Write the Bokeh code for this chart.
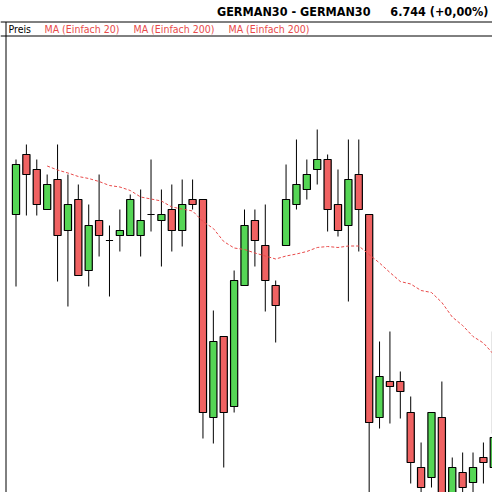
from bokeh.plotting import figure
from bokeh.models import Range1d, Span, Label, ColumnDataSource
from bokeh.embed import file_html
from bokeh.resources import INLINE

# ---------------- data ----------------
opens = [6978, 7098, 7068, 6988, 7048, 6946, 7008, 6866, 6966, 6926,
         6936, 6936, 6936, 6978, 6966, 6988, 6946, 7008, 7008, 6572,
         6734, 6594, 6836, 6966, 6916, 6836, 6916, 6998, 7028, 7068,
         7088, 6998, 6956, 7058, 6978, 6572, 6644, 6644, 6582, 6472,
         6452, 6572, 6386, 6462, 6442, 6492, 6472, 6540]
highs = [7088, 7118, 7088, 7058, 7118, 7058, 7038, 6998, 7058, 6956,
         6988, 7018, 7028, 7088, 7028, 7038, 7048, 7048, 7008, 6786,
         6734, 6866, 6988, 6988, 6998, 6846, 7078, 7128, 7088, 7148,
         7098, 7068, 7128, 7128, 6978, 6724, 6744, 6664, 6614, 6522,
         6582, 6644, 6492, 6502, 6502, 6522, 6562, 6744]
lows = [6834, 6976, 6976, 6988, 6844, 6794, 6856, 6834, 6894, 6814,
        6904, 6936, 6894, 6944, 6874, 6904, 6914, 6988, 6530, 6520,
        6472, 6582, 6836, 6874, 6784, 6722, 6916, 6988, 7008, 7038,
        6944, 6934, 6804, 6904, 6396, 6550, 6560, 6570, 6440, 6420,
        6432, 6402, 6386, 6402, 6420, 6440, 6440, 6540]
closes = [7078, 7058, 6998, 7038, 6936, 6998, 6856, 6956, 6936, 6926,
          6946, 7008, 6966, 6978, 6978, 6946, 6998, 6998, 6582, 6724,
          6582, 6846, 6956, 6926, 6846, 6796, 7008, 7038, 7058, 7088,
          6988, 6946, 7048, 6988, 6562, 6654, 6634, 6624, 6482, 6432,
          6582, 6412, 6472, 6432, 6472, 6482, 6532, 6744]

ma_first_index = 3
ma_values = [7075, 7067, 7061, 7054, 7050, 7044, 7036, 7033, 7026, 7013,
             7009, 7005, 6993, 6989, 6985, 6964, 6950, 6924, 6911, 6908,
             6901, 6895, 6889, 6895, 6899, 6904, 6912, 6914, 6912, 6915,
             6915, 6898, 6881, 6862, 6844, 6839, 6826, 6822, 6802, 6773,
             6756, 6734, 6721, 6698, 6686]

title_symbol = "GERMAN30 - GERMAN30"
title_quote = "6.744 (+0,00%)"
legend_labels = ["Preis", "MA (Einfach 20)", "MA (Einfach 200)", "MA (Einfach 200)"]

# ---------------- layout helpers (figure pixels -> data) ----------------
W, H = 492, 492
X_FIRST_PX, X_STEP_PX = 15.5, 10.387
PRICE_AT_TOP, PX_PER_PT = 7406.0, 0.5


def px2x(px):
    return (px - X_FIRST_PX) / X_STEP_PX


def py2y(py):
    return PRICE_AT_TOP - py / PX_PER_PT


GREEN = "#55d655"
RED = "#f06262"
MA_RED = "#e84a4a"
FONT = "DejaVu Sans Condensed"

idx = list(range(len(opens)))
inc = [c >= o for o, c in zip(opens, closes)]
src = ColumnDataSource(dict(
    x=idx,
    top=[max(o, c) for o, c in zip(opens, closes)],
    bottom=[min(o, c) for o, c in zip(opens, closes)],
    high=highs,
    low=lows,
    color=[GREEN if u else RED for u in inc],
))

p = figure(width=W, height=H, output_backend="svg", toolbar_location=None,
           x_range=Range1d(px2x(0), px2x(W)),
           y_range=Range1d(py2y(H), py2y(0)),
           min_border=0, outline_line_color=None)
p.axis.visible = False
p.grid.visible = False
p.background_fill_color = "white"

# wicks
p.segment(x0="x", y0="high", x1="x", y1="low", source=src,
          line_color="black", line_width=1)
# bodies
p.vbar(x="x", top="top", bottom="bottom", width=0.69, source=src,
       fill_color="color", line_color="black", line_width=1.2)

# moving average
ma_x = list(range(ma_first_index, ma_first_index + len(ma_values)))
p.line(ma_x, ma_values, line_color=MA_RED, line_width=1, line_dash="3 2")

# frame lines
for py in (21.5, 35.5):
    p.add_layout(Span(location=py2y(py), dimension="width",
                      line_color="black", line_width=1))
p.segment(x0=[px2x(5.5)], y0=[py2y(21.5)], x1=[px2x(5.5)], y1=[py2y(H)],
          line_color="black", line_width=1)

# legend row texts
legend_px = [8, 44, 133, 228]
legend_colors = ["black", MA_RED, MA_RED, MA_RED]
for lab, lx, lc in zip(legend_labels, legend_px, legend_colors):
    p.add_layout(Label(x=px2x(lx), y=py2y(28.5), text=lab, text_color=lc,
                       text_font=FONT, text_font_size="10.5px",
                       text_align="left", text_baseline="middle"))

# title texts
p.add_layout(Label(x=px2x(370), y=py2y(10.5), text=title_symbol,
                   text_color="black", text_font=FONT, text_font_size="12.5px",
                   text_font_style="bold", text_align="right",
                   text_baseline="middle"))
p.add_layout(Label(x=px2x(488), y=py2y(10.5), text=title_quote,
                   text_color="black", text_font=FONT, text_font_size="12.5px",
                   text_font_style="bold", text_align="right",
                   text_baseline="middle"))

open("out.html", "w").write(file_html(p, INLINE))
